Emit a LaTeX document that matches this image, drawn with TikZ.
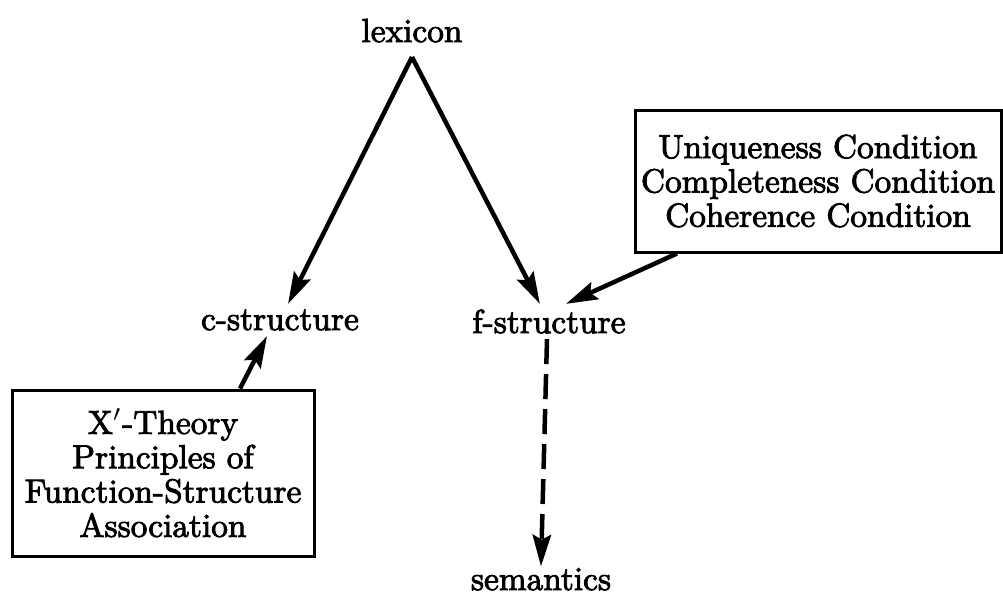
\documentclass[tikz,border=0pt]{standalone}
\usepackage{fontspec}
\setmainfont{Latin Modern Roman}[FakeBold=2.6]
\usetikzlibrary{arrows.meta}
\begin{document}
\begin{tikzpicture}[x=0.3pt,y=-0.3pt,
  lbl/.style={anchor=base,inner sep=1.5pt,font=\fontsize{10}{10.3}\selectfont},
  box/.style={draw,line width=0.9pt,align=center,inner sep=0pt,font=\fontsize{10}{10.3}\selectfont},
  arr/.style={line width=1.35pt,-{Stealth[length=9.5pt,width=5.5pt,inset=1.5pt]}},
  dasharr/.style={arr,dash pattern=on 7.5pt off 3pt}
]
\useasboundingbox (0,0) rectangle (1003,594);
\node[lbl] (lex) at (412,42) {lexicon};
\node[lbl] (cs) at (280,330) {c-structure};
\node[lbl] (fs) at (549,333) {f-structure};
\node[lbl] (sem) at (541,590) {semantics};
\node[box,minimum width=109.8pt,minimum height=42.6pt] (ubox) at (818,181)
  {Uniqueness Condition\\Completeness Condition\\Coherence Condition};
\node[box,minimum width=90.6pt,minimum height=49.8pt] (lbox) at (163,473)
  {X$'$-Theory\\Principles of\\Function-Structure\\Association};
\coordinate (apex) at ([yshift=-2.7pt]lex.south);
\draw[arr] (apex) -- (cs);
\draw[arr] (apex) -- (fs);
\draw[arr] ([xshift=-42.3pt]ubox.south) -- ([xshift=5.1pt]fs.north);
\draw[arr] ([xshift=23.1pt]lbox.north) -- ([xshift=-3.9pt]cs.south);
\draw[dasharr] ([xshift=-0.6pt]fs.south) -- ([yshift=-1.2pt]sem.north);
\end{tikzpicture}
\end{document}
